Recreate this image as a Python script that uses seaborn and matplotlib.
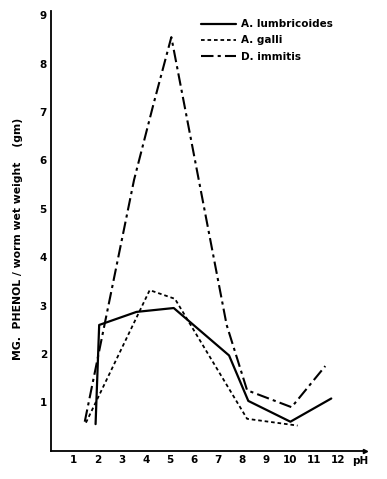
import numpy as np
import pandas as pd
import seaborn as sns
import matplotlib.pyplot as plt

# valores (pH x mg fenol / peso umido)
ph_lumb = [1.9, 2.05, 3.6, 5.15, 7.45, 8.25, 10.0, 11.7]
val_lumb = [0.55, 2.6, 2.87, 2.95, 1.97, 1.03, 0.6, 1.08]

ph_galli = [1.5, 4.15, 5.2, 8.2, 10.3]
val_galli = [0.58, 3.32, 3.14, 0.66, 0.52]

ph_imm = [1.45, 3.5, 4.3, 5.05, 7.35, 8.2, 10.05, 11.45]
val_imm = [0.6, 5.6, 7.15, 8.55, 2.6, 1.25, 0.9, 1.75]

labels = ['A. lumbricoides', 'A. galli', 'D. immitis']
x_ticks = list(range(1, 13))
y_ticks = list(range(1, 10))

sns.set_style('white')
plt.rcParams['font.family'] = ['DejaVu Sans']
plt.rcParams['text.color'] = 'black'
plt.rcParams['xtick.color'] = 'black'
plt.rcParams['ytick.color'] = 'black'
plt.rcParams['axes.labelcolor'] = 'black'

fig = plt.figure(figsize=(3.87, 4.79), dpi=100)
ax = fig.add_axes([0.132, 0.059, 0.811, 0.917])

sns.lineplot(x=ph_lumb, y=val_lumb, sort=False, ax=ax, color='black',
             lw=1.6, label=labels[0])
sns.lineplot(x=ph_galli, y=val_galli, sort=False, ax=ax, color='black',
             lw=1.3, label=labels[1])
sns.lineplot(x=ph_imm, y=val_imm, sort=False, ax=ax, color='black',
             lw=1.5, label=labels[2])

lines = ax.get_lines()
lines[1].set_dashes([2, 1.6])
lines[2].set_dashes([6, 2, 1.5, 2])

ax.set_xlim(0.05, 13.1)
ax.set_ylim(0, 9.08)
ax.set_xticks(x_ticks)
ax.set_yticks(y_ticks)
ax.set_xticklabels([str(t) for t in x_ticks], fontsize=7.5, fontweight='bold')
ax.set_yticklabels([str(t) for t in y_ticks], fontsize=7.5, fontweight='bold')
ax.tick_params(axis='both', direction='in', length=3, width=1, pad=3, color='black')

for s in ['top', 'right']:
    ax.spines[s].set_visible(False)
for s in ['left', 'bottom']:
    ax.spines[s].set_color('black')
    ax.spines[s].set_linewidth(1.3)

# seta no fim do eixo x
ax.plot(1, 0, '>', color='black', ms=3, transform=ax.transAxes, clip_on=False)
ax.text(12.55, -0.22, 'pH', fontsize=7.5, fontweight='bold', va='center', ha='left')

ax.set_ylabel('MG.  PHENOL / worm wet weight    (gm)', fontsize=7.8, fontweight='bold')
ax.yaxis.set_label_coords(-0.09, 0.482)

leg = ax.legend(loc='upper left', bbox_to_anchor=(0.465, 0.992), frameon=False,
                fontsize=7.5, handlelength=3.3, handletextpad=0.5,
                labelspacing=0.6, borderaxespad=0)
for t in leg.get_texts():
    t.set_fontweight('bold')

fig.savefig('out.png', dpi=100)
